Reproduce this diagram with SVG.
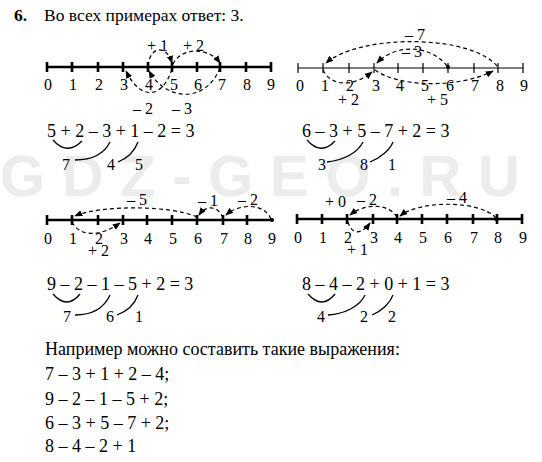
<svg xmlns="http://www.w3.org/2000/svg" width="542" height="462" viewBox="0 0 542 462" style="font-family:'Liberation Serif','Times New Roman',serif">
<defs>
<marker id="ah" viewBox="0 0 10 10" refX="9" refY="5" markerWidth="8" markerHeight="8" markerUnits="userSpaceOnUse" orient="auto"><path d="M0,1 L10,5 L0,9 z" fill="#000"/></marker>
<style>
svg text{font-family:'Liberation Serif','Times New Roman',serif}
.hd{font-size:17.5px}
.eq{font-size:18px}
.sm{font-size:16px}
.nl{font-size:16px;text-anchor:middle}
.al{font-size:16px}
svg text.wm{font-family:'Liberation Sans',Arial,sans-serif;font-weight:bold;font-size:58px;fill:#ececec}
.thick{stroke:#000;stroke-width:2.6;fill:none}
.thin{stroke:#000;stroke-width:1.2;fill:none}
.arc{stroke:#000;stroke-width:1.2;fill:none;stroke-dasharray:4 3;marker-end:url(#ah)}
.br{stroke:#000;stroke-width:1.3;fill:none}
</style>
</defs>
<rect width="542" height="462" fill="#fff"/>
<text class="wm" x="0" y="196" textLength="520">GDZ-GEO.RU</text>

<g id="header">
<text class="hd" x="14" y="21" font-weight="bold" style="font-family:'Liberation Serif',serif">6.</text>
<text class="hd" x="44" y="21" style="font-family:'Liberation Serif',serif">Во всех примерах ответ: 3.</text>
</g>

<g id="numberline1">
<path class="thick" d="M47,67 H271 M47,62 V72 M72,62 V72 M98,62 V72 M123,62 V72 M148,62 V72 M172,62 V72 M197,62 V72 M220,62 V72 M246,62 V72 M271,62 V72"/>
<text class="nl" x="48" y="90">0</text><text class="nl" x="73" y="90">1</text><text class="nl" x="99" y="90">2</text><text class="nl" x="124" y="90">3</text><text class="nl" x="149" y="90">4</text><text class="nl" x="174" y="90">5</text><text class="nl" x="198" y="90">6</text><text class="nl" x="222" y="90">7</text><text class="nl" x="247" y="90">8</text><text class="nl" x="271" y="90">9</text>
<text class="al" x="147" y="51">+ 1</text><text class="al" x="183" y="51">+ 2</text>
<text class="al" x="133" y="114">– 2</text><text class="al" x="172" y="114">– 3</text>
</g>

<g id="numberline2">
<path class="thin" d="M298,68 H523 M298,63 V73 M323,63 V73 M349,63 V73 M374,63 V73 M398,63 V73 M423,63 V73 M448,63 V73 M474,63 V73 M498,63 V73 M523,63 V73"/>
<circle cx="448" cy="67" r="2"/>
<text class="nl" x="300" y="91">0</text><text class="nl" x="325" y="91">1</text><text class="nl" x="350" y="91">2</text><text class="nl" x="376" y="91">3</text><text class="nl" x="400" y="91">4</text><text class="nl" x="425" y="91">5</text><text class="nl" x="450" y="91">6</text><text class="nl" x="475" y="91">7</text><text class="nl" x="500" y="91">8</text><text class="nl" x="524" y="91">9</text>
<text class="al" x="405" y="40">– 7</text><text class="al" x="402" y="57">– 3</text>
<text class="al" x="338" y="105">+ 2</text><text class="al" x="427" y="105">+ 5</text>
</g>

<g id="numberline3">
<path class="thick" d="M47,220 H272 M47,215 V225 M72,215 V225 M98,215 V225 M123,215 V225 M147,215 V225 M172,215 V225 M197,215 V225 M223,215 V225 M247,215 V225"/>
<circle cx="272" cy="220" r="2"/>
<text class="nl" x="48" y="244">0</text><text class="nl" x="73" y="244">1</text><text class="nl" x="99" y="244">2</text><text class="nl" x="124" y="244">3</text><text class="nl" x="148" y="244">4</text><text class="nl" x="173" y="244">5</text><text class="nl" x="198" y="244">6</text><text class="nl" x="224" y="244">7</text><text class="nl" x="248" y="244">8</text><text class="nl" x="272" y="244">9</text>
<text class="al" x="127" y="205">– 5</text><text class="al" x="198" y="206">– 1</text><text class="al" x="238" y="205">– 2</text>
<text class="al" x="88" y="256">+ 2</text>
</g>

<g id="numberline4">
<path class="thick" d="M297,219 H522 M297,214 V224 M322,214 V224 M347,214 V224 M373,214 V224 M397,214 V224 M422,214 V224 M447,214 V224 M473,214 V224 M497,214 V224 M522,214 V224"/>
<circle cx="496" cy="219" r="2"/>
<text class="nl" x="298" y="243">0</text><text class="nl" x="323" y="243">1</text><text class="nl" x="348" y="243">2</text><text class="nl" x="374" y="243">3</text><text class="nl" x="398" y="243">4</text><text class="nl" x="423" y="243">5</text><text class="nl" x="448" y="243">6</text><text class="nl" x="474" y="243">7</text><text class="nl" x="498" y="243">8</text><text class="nl" x="523" y="243">9</text>
<text class="al" x="325" y="207">+ 0</text><text class="al" x="357" y="205">– 2</text><text class="al" x="447" y="203">– 4</text>
<text class="al" x="347" y="255">+ 1</text>
</g>

<g id="equation1">
<text class="eq" x="47" y="137">5 + 2 – 3 + 1 – 2 = 3</text>
<path class="br" d="M53,140 Q67,156 82,141 M75,160 C95,160 105,152 110,142 M118,162 C128,158 135,150 138,142"/>
<text class="sm" x="62" y="170">7</text><text class="sm" x="107" y="170">4</text><text class="sm" x="135" y="170">5</text>
</g>

<g id="equation2">
<text class="eq" x="302" y="137">6 – 3 + 5 – 7 + 2 = 3</text>
<path class="br" d="M307,140 Q321,156 335,141 M327,162 C345,160 358,152 363,142 M370,162 C380,158 390,150 393,142"/>
<text class="sm" x="318" y="170">3</text><text class="sm" x="360" y="170">8</text><text class="sm" x="388" y="170">1</text>
</g>

<g id="equation3">
<text class="eq" x="47" y="290">9 – 2 – 1 – 5 + 2 = 3</text>
<path class="br" d="M53,294 Q67,310 80,294 M75,315 C95,315 105,306 110,295 M117,315 C128,311 135,303 138,295"/>
<text class="sm" x="63" y="322">7</text><text class="sm" x="106" y="322">6</text><text class="sm" x="135" y="322">1</text>
</g>

<g id="equation4">
<text class="eq" x="302" y="290">8 – 4 – 2 + 0 + 1 = 3</text>
<path class="br" d="M308,294 Q322,310 335,294 M328,315 C345,314 360,306 365,295 M372,315 C382,311 390,303 393,295"/>
<text class="sm" x="317" y="322">4</text><text class="sm" x="360" y="322">2</text><text class="sm" x="388" y="322">2</text>
</g>

<g id="examples">
<text class="eq" x="45" y="355">Например можно составить такие выражения:</text>
<text class="eq" x="45" y="380">7 – 3 + 1 + 2 – 4;</text>
<text class="eq" x="45" y="405">9 – 2 – 1 – 5 + 2;</text>
<text class="eq" x="45" y="429">6 – 3 + 5 – 7 + 2;</text>
<text class="eq" x="45" y="452">8 – 4 – 2 + 1</text>
</g>

<g id="connectors">
<path class="arc" d="M148,66 C150,46 166,44 172,63"/>
<path class="arc" d="M173,64 C180,48 208,46 220,63"/>
<path class="arc" d="M220,68 C205,105 165,100 149,71"/>
<path class="arc" d="M172,69 C162,100 140,100 126,71"/>
<path class="arc" d="M497,66 C470,34 360,34 326,63"/>
<path class="arc" d="M447,66 C430,44 395,44 377,63"/>
<path class="arc" d="M375,70 C400,88 460,88 493,71"/>
<path class="arc" d="M323,70 C332,88 355,86 372,72"/>
<path class="arc" d="M271,219 C264,203 240,203 226,215"/>
<path class="arc" d="M223,218 C218,205 206,205 199,215"/>
<path class="arc" d="M197,217 C170,205 100,205 75,216"/>
<path class="arc" d="M72,222 C80,238 102,236 120,223"/>
<path class="arc" d="M496,218 C480,200 420,200 400,216"/>
<path class="arc" d="M397,217 C388,203 365,203 350,215"/>
<path class="arc" d="M348,222 C352,236 362,234 370,223"/>
</g>
</svg>
